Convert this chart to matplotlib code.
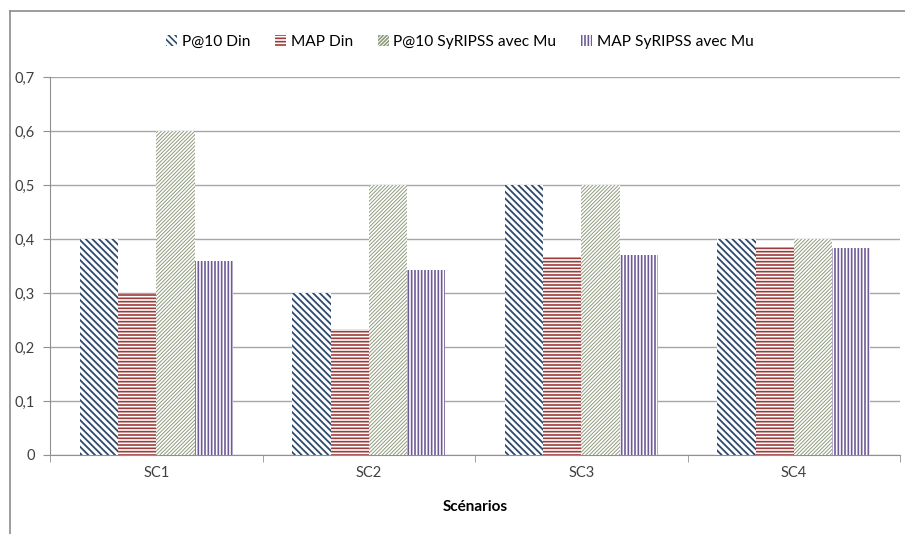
import matplotlib
matplotlib.use("Agg")
import matplotlib.pyplot as plt
import numpy as np
from matplotlib.patches import Patch
from matplotlib.lines import Line2D
from matplotlib.ticker import FuncFormatter

# Scores per scenario
scenarios = ["SC1", "SC2", "SC3", "SC4"]
series_names = ["P@10 Din", "MAP Din", "P@10 SyRIPSS avec Mu", "MAP SyRIPSS avec Mu"]
p10_din = [0.4, 0.3, 0.5, 0.4]
map_din = [0.298, 0.233, 0.367, 0.385]
p10_syripss = [0.6, 0.5, 0.5, 0.4]
map_syripss = [0.36, 0.342, 0.37, 0.383]

colors = ["#2d4a6e", "#9c3c3a", "#8e9a7c", "#6f5c97"]
hatches = ["\\" * 5, "-" * 5, "/" * 9, "|" * 5]
hatch_widths = [1.3, 1.2, 0.7, 1.2]

plt.rcParams["font.family"] = ["Lato", "DejaVu Sans"]

fig = plt.figure(figsize=(9.05, 5.34), dpi=100)
ax = fig.add_axes([50 / 905, 1 - 455 / 534, 850 / 905, 378 / 534])

x = np.arange(len(scenarios))
width = 0.18
all_series = [p10_din, map_din, p10_syripss, map_syripss]
for i, vals in enumerate(all_series):
    plt.rcParams["hatch.linewidth"] = hatch_widths[i]
    ax.bar(x + (i - 1.5) * width, vals, width, facecolor="white",
           edgecolor=colors[i], hatch=hatches[i], linewidth=0, zorder=3)

ax.set_xlim(-0.5, len(scenarios) - 0.5)
ax.set_ylim(0, 0.7)
ax.set_yticks(np.arange(0, 0.71, 0.1))
ax.yaxis.set_major_formatter(FuncFormatter(
    lambda v, _: "0" if abs(v) < 1e-9 else f"{v:.1f}".replace(".", ",")))
ax.yaxis.grid(True, color="#a6a6a6", linewidth=1.0, zorder=0)

ax.set_xticks(x)
ax.set_xticklabels(scenarios)
ax.set_xticks(np.arange(-0.5, len(scenarios)), minor=True)
ax.tick_params(axis="x", which="major", length=0, pad=8, labelsize=10.5, colors="#404040")
ax.tick_params(axis="x", which="minor", length=5, color="#909090")
ax.tick_params(axis="y", length=5, color="#909090", labelsize=10.5, labelcolor="#404040", pad=6)
for s in ["top", "right"]:
    ax.spines[s].set_visible(False)
for s in ["left", "bottom"]:
    ax.spines[s].set_color("#909090")
ax.set_xlabel("Scénarios", fontsize=11, fontweight="bold", labelpad=14)

handles = []
for i in range(4):
    plt.rcParams["hatch.linewidth"] = hatch_widths[i]
    handles.append(Patch(facecolor="white", edgecolor=colors[i], hatch=hatches[i], linewidth=0))
fig.legend(handles, series_names, loc="center", bbox_to_anchor=(460 / 905, 1 - 42 / 534),
           ncol=4, frameon=False, fontsize=11.2, handlelength=0.7, handleheight=0.7,
           handletextpad=0.3, columnspacing=1.6)

# chart frame
fig.add_artist(Line2D([9.5 / 905, 1], [1 - 11 / 534, 1 - 11 / 534], color="#8c8c8c", linewidth=1.2))
fig.add_artist(Line2D([9.5 / 905, 9.5 / 905], [0, 1 - 11 / 534], color="#8c8c8c", linewidth=1.2))

fig.savefig("out.png", dpi=100)
